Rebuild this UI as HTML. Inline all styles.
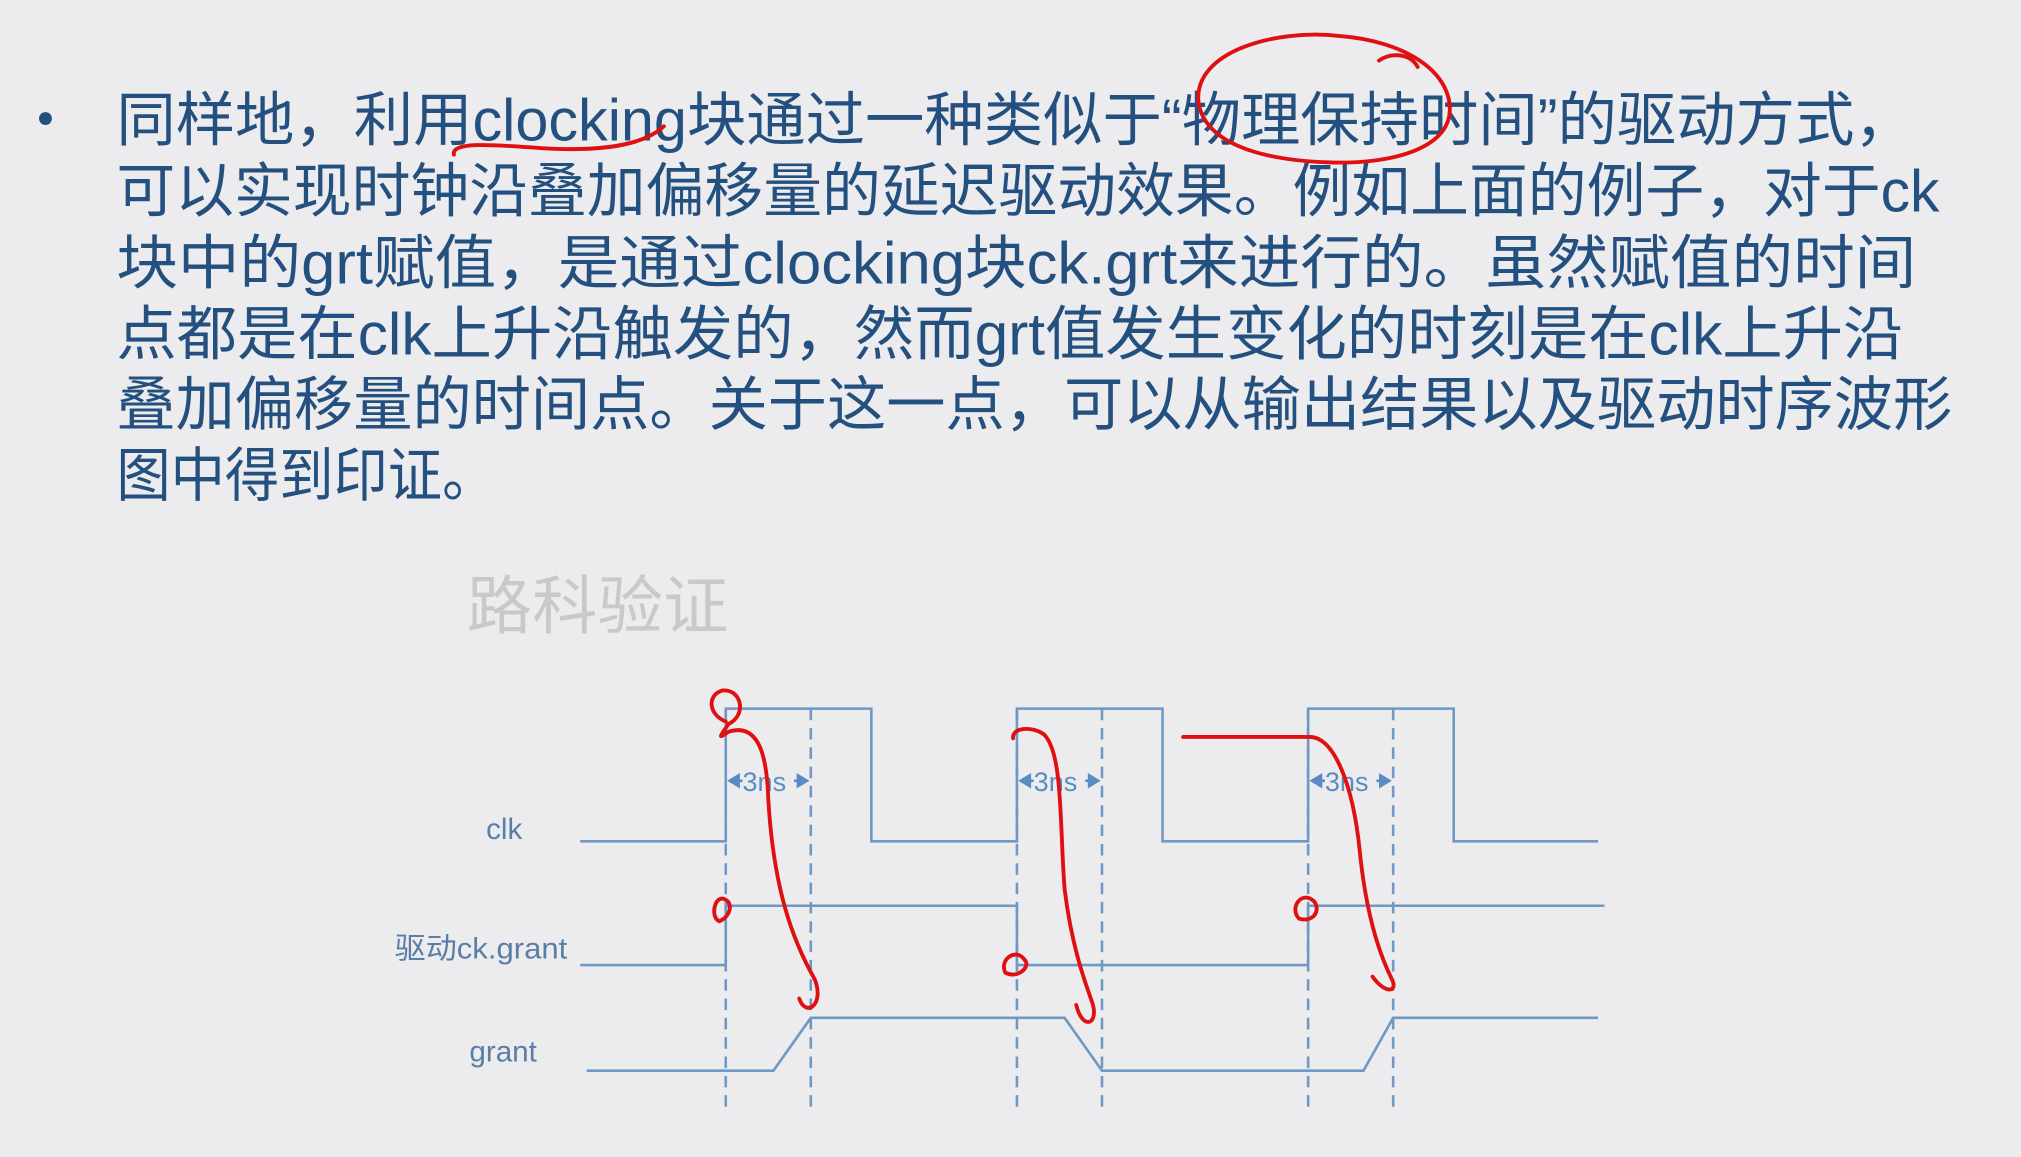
<!DOCTYPE html>
<html><head><meta charset="utf-8"><style>
html,body{margin:0;padding:0;background:#ececef;}
svg{display:block}
.t{font-family:"Liberation Sans","Noto Sans CJK SC",sans-serif;font-size:46px;fill:#24507f;}
.l{font-family:"Liberation Sans","Noto Sans CJK SC",sans-serif;font-size:23px;fill:#5a7ea6;}
.n{font-family:"Liberation Sans",sans-serif;font-size:21px;fill:#5a8cc4;}
</style></head><body>
<svg width="2021" height="1157" viewBox="0 0 1568 898" xmlns="http://www.w3.org/2000/svg">
<rect width="1568" height="898" fill="#ececef"/>
<circle cx="35" cy="92" r="5" fill="#24507f"/>
<text class="t" x="90" y="109" textLength="1395" lengthAdjust="spacingAndGlyphs">同样地，利用clocking块通过一种类似于“物理保持时间”的驱动方式，</text>
<text class="t" x="90" y="164" textLength="1415" lengthAdjust="spacingAndGlyphs">可以实现时钟沿叠加偏移量的延迟驱动效果。例如上面的例子，对于ck</text>
<text class="t" x="90" y="220" textLength="1397" lengthAdjust="spacingAndGlyphs">块中的grt赋值，是通过clocking块ck.grt来进行的。虽然赋值的时间</text>
<text class="t" x="90" y="275" textLength="1387" lengthAdjust="spacingAndGlyphs">点都是在clk上升沿触发的，然而grt值发生变化的时刻是在clk上升沿</text>
<text class="t" x="90" y="330" textLength="1425" lengthAdjust="spacingAndGlyphs">叠加偏移量的时间点。关于这一点，可以从输出结果以及驱动时序波形</text>
<text class="t" x="90" y="385" textLength="295" lengthAdjust="spacingAndGlyphs">图中得到印证。</text>
<text x="362" y="488" font-family="Liberation Sans,Noto Sans CJK SC,sans-serif" font-size="50" fill="#c9c9cc" textLength="203" lengthAdjust="spacingAndGlyphs">路科验证</text>
<g stroke="#7098c4" stroke-width="2" fill="none">
<polyline points="450,653 563,653 563,550 676,550 676,653 789,653 789,550 902,550 902,653 1015,653 1015,550 1128,550 1128,653 1240,653"/>
<polyline points="450,749 563,749 563,703 789,703 789,749 1015,749 1015,703 1245,703"/>
<polyline points="455,831 600,831 629,790 826,790 855,831 1058,831 1081,790 1240,790"/>
<g stroke-dasharray="9,6">
<line x1="563" y1="550" x2="563" y2="862"/><line x1="629" y1="550" x2="629" y2="862"/>
<line x1="789" y1="550" x2="789" y2="862"/><line x1="855" y1="550" x2="855" y2="862"/>
<line x1="1015" y1="550" x2="1015" y2="862"/><line x1="1081" y1="550" x2="1081" y2="862"/>
</g>
<line x1="566" y1="606" x2="626" y2="606" stroke="#5a8cc4"/>
<line x1="792" y1="606" x2="852" y2="606" stroke="#5a8cc4"/>
<line x1="1018" y1="606" x2="1078" y2="606" stroke="#5a8cc4"/>
</g>
<g fill="#5a8cc4">
<polygon points="564,606 574,600 574,612"/><polygon points="628,606 618,600 618,612"/>
<polygon points="790,606 800,600 800,612"/><polygon points="854,606 844,600 844,612"/>
<polygon points="1016,606 1026,600 1026,612"/><polygon points="1080,606 1070,600 1070,612"/>
</g>
<rect x="576" y="594" width="40" height="22" fill="#ececef"/>
<rect x="802" y="594" width="40" height="22" fill="#ececef"/>
<rect x="1028" y="594" width="40" height="22" fill="#ececef"/>
<text class="n" x="576" y="614">3ns</text>
<text class="n" x="802" y="614">3ns</text>
<text class="n" x="1028" y="614">3ns</text>
<text class="l" x="377" y="651">clk</text>
<text class="l" x="306" y="744" textLength="134" lengthAdjust="spacingAndGlyphs">驱动ck.grant</text>
<text class="l" x="364" y="824">grant</text>
<g stroke="#e01010" stroke-width="3" fill="none" stroke-linecap="round">
<path d="M930,80 C925,40 990,22 1040,28 C1090,32 1125,55 1125,85 C1125,115 1080,128 1030,126 C975,124 935,110 930,80"/>
<path d="M1070,47 C1080,40 1095,42 1100,52"/>
<path d="M352,120 C350,110 380,112 420,115 C470,118 500,112 515,98"/>
<path d="M563,560 C550,555 548,540 560,536 C575,534 580,555 565,562 C560,570 555,575 565,568 C590,560 595,590 596,620 C600,690 615,730 632,760 C640,780 625,790 620,775"/>
<path d="M786,573 C785,565 800,563 810,570 C825,585 822,640 826,690 C832,740 845,770 848,780 C852,795 840,800 835,780"/>
<path d="M918,572 L1015,572 C1035,570 1050,610 1055,660 C1060,710 1070,740 1080,760 C1085,770 1075,772 1065,758"/>
<path d="M565,700 C555,690 550,712 558,715 C565,712 568,705 565,700"/>
<path d="M1020,700 C1010,690 1000,705 1008,713 C1018,716 1025,708 1020,700"/>
<path d="M795,745 C788,735 775,745 780,755 C790,760 800,750 795,745"/>
</g>
</svg>
</body></html>
